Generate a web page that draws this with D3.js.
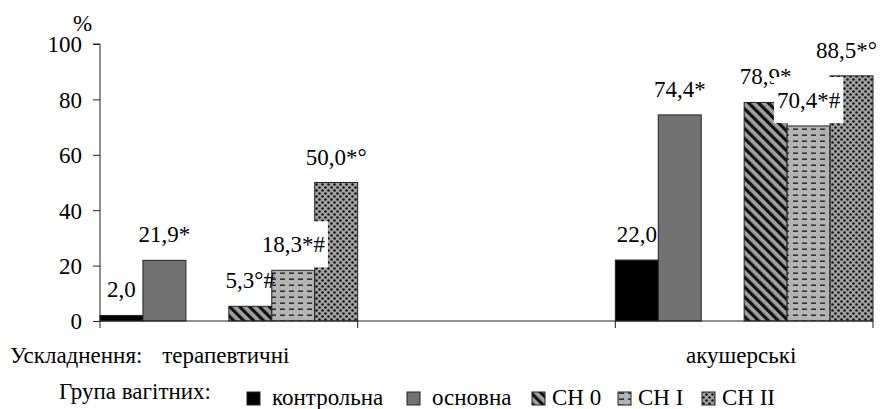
<!DOCTYPE html>
<html>
<head>
<meta charset="utf-8">
<script src="https://cdn.jsdelivr.net/npm/d3@7"></script>
<style>
  html, body { margin: 0; padding: 0; background: #fff; font-family: "Liberation Serif"; }
  svg { display: block; }
</style>
</head>
<body>
<svg id="chart" width="880" height="409"><style>text { font-family: "Liberation Serif"; }</style></svg>
<script>
const categories = ["терапевтичні", "", "акушерські"];
const groups = ["контрольна", "основна", "СН 0", "СН I", "СН II"];
const kontrolna = [2.0, null, 22.0];
const osnovna   = [21.9, null, 74.4];
const ch0       = [5.3, null, 78.9];
const ch1       = [18.3, null, 70.4];
const ch2       = [50.0, null, 88.5];
const kontrolnaMarks = ["", null, ""];
const osnovnaMarks   = ["*", null, "*"];
const ch0Marks       = ["°#", null, "*"];
const ch1Marks       = ["*#", null, "*#"];
const ch2Marks       = ["*°", null, "*°"];
const yTicks = [0, 20, 40, 60, 80, 100];
const axisTitle = "Ускладнення:";
const legendTitle = "Група вагітних:";
const yUnit = "%";

const seriesValues = [kontrolna, osnovna, ch0, ch1, ch2];
const seriesMarks = [kontrolnaMarks, osnovnaMarks, ch0Marks, ch1Marks, ch2Marks];
const slots = [groups[0], groups[1], "_gap", groups[2], groups[3], groups[4]];

const FONT = '"Liberation Serif"';
const FS = 23;
function styleText(sel, size) {
  return sel.attr("font-family", FONT).attr("font-size", size || FS)
    .attr("fill", "#000").style("font-family", "'Liberation Serif'");
}
const svg = d3.select("#chart");

function draw() {
  svg.selectAll(":scope > :not(style)").remove();
  const defs = svg.append("defs");
  const pHatch = defs.append("pattern").attr("id", "hatch")
    .attr("patternUnits", "userSpaceOnUse").attr("width", 7).attr("height", 7)
    .attr("patternTransform", "rotate(-45)");
  pHatch.append("rect").attr("width", 7).attr("height", 7).attr("fill", "#a0a0a0");
  pHatch.append("rect").attr("width", 3.2).attr("height", 7).attr("fill", "#111");
  const pDash = defs.append("pattern").attr("id", "dash")
    .attr("patternUnits", "userSpaceOnUse").attr("width", 9).attr("height", 6);
  pDash.append("rect").attr("width", 9).attr("height", 6).attr("fill", "#b2b2b2");
  pDash.append("rect").attr("x", 1).attr("y", 2.5).attr("width", 5).attr("height", 1.4).attr("fill", "#222");
  const pDot = defs.append("pattern").attr("id", "dots")
    .attr("patternUnits", "userSpaceOnUse").attr("width", 6).attr("height", 6);
  pDot.append("rect").attr("width", 6).attr("height", 6).attr("fill", "#a4a4a4");
  pDot.append("circle").attr("cx", 1.5).attr("cy", 1.5).attr("r", 1.3).attr("fill", "#111");
  pDot.append("circle").attr("cx", 4.5).attr("cy", 4.5).attr("r", 1.3).attr("fill", "#111");
  const fills = ["#000", "#727272", "url(#hatch)", "url(#dash)", "url(#dots)"];

  const x0 = d3.scaleBand().domain(categories).range([100, 873]).padding(0);
  const x1 = d3.scaleBand().domain(slots).range([0, x0.bandwidth()]).padding(0);
  const y = d3.scaleLinear().domain([0, 100]).range([321, 44]);

  const barsG = svg.append("g");
  seriesValues.forEach((vals, si) => {
    barsG.selectAll(null)
      .data(categories.map((c, ci) => ({ c, v: vals[ci] })).filter(d => d.v != null))
      .enter().append("rect")
      .attr("x", d => x0(d.c) + x1(groups[si])).attr("y", d => y(d.v))
      .attr("width", x1.bandwidth()).attr("height", d => y(0) - y(d.v))
      .attr("fill", fills[si]).attr("stroke", "#222").attr("stroke-width", 1);
  });

  const yAxis = d3.axisLeft(y).tickValues(yTicks).tickSize(7).tickPadding(11).tickFormat(d3.format("d"));
  const gy = svg.append("g").attr("transform", "translate(100,0)").call(yAxis)
    .attr("font-family", FONT).attr("font-size", FS);
  gy.select(".domain").attr("stroke", "#222").attr("d", `M-7,${y(100)}H0V${y(0)}`);
  gy.selectAll(".tick line").attr("stroke", "#222");
  styleText(gy.selectAll(".tick text")).attr("dy", "0.34em");

  const xBounds = [100, ...categories.map(c => x0(c) + x0.bandwidth())];
  const gx = svg.append("g");
  gx.append("line").attr("x1", 100).attr("x2", 873).attr("y1", y(0)).attr("y2", y(0)).attr("stroke", "#222");
  gx.selectAll(".xt").data(xBounds).enter().append("line")
    .attr("x1", d => d).attr("x2", d => d).attr("y1", y(0)).attr("y2", y(0) + 7).attr("stroke", "#222");

  styleText(svg.append("text").attr("x", 73).attr("y", 31)).text(yUnit);

  const labG = svg.append("g");
  const fmt = v => d3.format(".1f")(v).replace(".", ",");
  seriesValues.forEach((vals, si) => {
    categories.forEach((c, ci) => {
      const v = vals[ci];
      if (v == null) return;
      let cx = x0(c) + x1(groups[si]) + x1.bandwidth() / 2;
      const by = y(v) - 18;
      const g = labG.append("g");
      const t = styleText(g.append("text").attr("y", by).attr("text-anchor", "middle"))
        .text(fmt(v) + seriesMarks[si][ci]);
      const w = t.node().getComputedTextLength();
      if (cx + w / 2 > 877) cx = 877 - w / 2;
      t.attr("x", cx);
      if (si === 3) {
        g.insert("rect", "text").attr("x", cx - w / 2 - 3).attr("y", by - 31)
          .attr("width", w + 6).attr("height", 46).attr("fill", "#fff");
      }
    });
  });

  styleText(svg.append("text").attr("x", 10).attr("y", 363)).text(axisTitle);
  styleText(svg.selectAll(".cat").data(categories.filter(c => c)).enter().append("text")
    .attr("x", d => x0(d) + x0.bandwidth() / 2 - 3).attr("y", 363)
    .attr("text-anchor", "middle")).text(d => d);

  styleText(svg.append("text").attr("x", 59).attr("y", 399)).text(legendTitle);
  const legX = [247, 407, 532, 618, 702];
  const leg = svg.selectAll(".leg").data(groups).enter().append("g")
    .attr("transform", (d, i) => `translate(${legX[i]},0)`);
  leg.append("rect").attr("x", 0).attr("y", 392).attr("width", 13).attr("height", 13)
    .attr("fill", (d, i) => fills[i]).attr("stroke", "#222").attr("stroke-width", 1);
  styleText(leg.append("text").attr("x", (d, i) => i < 2 ? 25 : 20).attr("y", 405)).text(d => d);
}

draw();
if (document.fonts && document.fonts.load) {
  document.fonts.load(`${FS}px "Liberation Serif"`, "Ускладнення 0123").then(draw).catch(() => {});
}
setTimeout(draw, 60);
</script>
</body>
</html>
